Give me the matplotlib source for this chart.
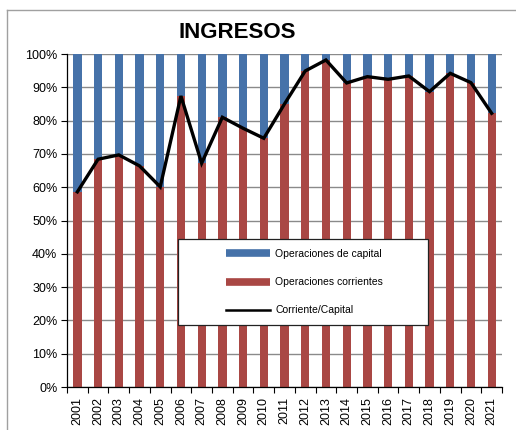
import matplotlib
matplotlib.use("Agg")
import matplotlib.pyplot as plt
from matplotlib.lines import Line2D
from matplotlib.patches import Rectangle
from matplotlib.ticker import FixedLocator, PercentFormatter

plt.rcParams['font.family'] = ['Liberation Sans', 'DejaVu Sans']

years = [str(y) for y in range(2001, 2022)]
corrientes = [58.6, 68.4, 69.7, 66.4, 60.1, 87.4, 67.2, 81.0, 77.7, 74.7, 85.0,
              94.9, 98.2, 91.3, 93.2, 92.4, 93.4, 88.7, 94.2, 91.4, 82.2]
capital = [100 - v for v in corrientes]
ratio = corrientes[:]

red = '#A94744'
blue = '#4672A9'

fig = plt.figure(figsize=(5.16, 4.30), dpi=100)
ax = fig.add_axes([67/516, 1 - 387/430, (502 - 67)/516, (387 - 54)/430])

x = list(range(len(years)))
ax.bar(x, corrientes, width=0.4, color=red, zorder=2)
ax.bar(x, capital, width=0.4, bottom=corrientes, color=blue, zorder=2)
ax.plot(x, ratio, color='black', lw=2.4, zorder=3, solid_joinstyle='miter')

ax.set_xlim(-0.5, len(years) - 0.5)
ax.set_ylim(0, 100)
ax.yaxis.set_major_locator(FixedLocator(range(0, 101, 10)))
ax.yaxis.set_major_formatter(PercentFormatter(decimals=0))
ax.grid(axis='y', color='#8a8a8a', lw=1.0, zorder=1)
ax.set_axisbelow(True)

ax.set_xticks(x)
ax.set_xticklabels(years, rotation=90, fontsize=9)
ax.tick_params(axis='x', which='major', length=0, pad=7)
ax.set_xticks([i - 0.5 for i in range(len(years) + 1)], minor=True)
ax.tick_params(axis='x', which='minor', length=4, width=0.8, color='black')
ax.tick_params(axis='y', length=4, width=0.8, labelsize=9, pad=3)

for s in ['top', 'right']:
    ax.spines[s].set_visible(False)
ax.spines['left'].set_color('black')
ax.spines['bottom'].set_color('black')
ax.spines['left'].set_linewidth(0.9)
ax.spines['bottom'].set_linewidth(0.9)

# legend box
bx0 = (178 - 67) / 435
by0 = (387 - 325) / 333
bw = (428 - 178) / 435
bh = (325 - 239) / 333
ax.add_patch(Rectangle((bx0, by0), bw, bh, transform=ax.transAxes,
                       facecolor='white', edgecolor='#222222', lw=0.9, zorder=5))
handles = [Line2D([], [], color=blue, lw=5.5, solid_capstyle='butt'),
           Line2D([], [], color=red, lw=5.5, solid_capstyle='butt'),
           Line2D([], [], color='black', lw=1.8)]
labels = ['Operaciones de capital', 'Operaciones corrientes', 'Corriente/Capital']
leg = ax.legend(handles, labels, loc='upper left',
                bbox_to_anchor=((226 - 67) / 435, (387 - 249) / 333),
                frameon=False, fontsize=7.5, handlelength=4.2,
                handletextpad=0.55, labelspacing=1.75, borderpad=0, borderaxespad=0)
leg.set_zorder(6)

fig.text(237/516, 1 - 33/430, 'INGRESOS', ha='center', va='center',
         fontsize=16, fontweight='bold')

# outer chart border (partially visible)
fig.add_artist(Line2D([7/516, 7/516], [0, 1 - 10/430], transform=fig.transFigure,
                      color='#a0a0a0', lw=1.0))
fig.add_artist(Line2D([7/516, 1], [1 - 10/430, 1 - 10/430], transform=fig.transFigure,
                      color='#a0a0a0', lw=1.0))

fig.savefig('out.png', dpi=100)
